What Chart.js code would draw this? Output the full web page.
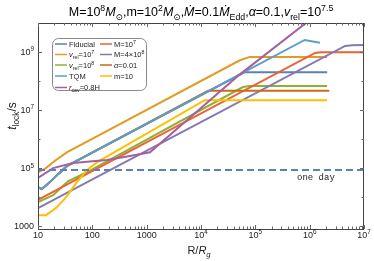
<!DOCTYPE html>
<html lang="en">
<head>
<meta charset="UTF-8">
<title>t_lock vs R</title>
<script src="https://cdn.jsdelivr.net/npm/chart.js"></script>
<style>
  body { margin: 0; background: #fff; }
</style>
</head>
<body>
<canvas id="myChart" width="374" height="261"></canvas>
<script>
// radius in R_g and locking time in s
const fiducialR = [10, 11.7, 16.6, 23.4, 33.9, 6.3e4, 2.1e6];
const fiducialT = [2.2e4, 1.9e4, 3.3e4, 6.2e4, 1.17e5, 2.0e8, 2.0e8];
const vrel7R = [10, 14, 21.4, 33.9, 5.2e4, 7.9e4, 2.1e6];
const vrel7T = [7.2e4, 1.0e5, 1.9e5, 3.5e5, 5.2e8, 6.8e8, 6.8e8];
const vrel8R = [10, 19, 35.5, 79, 5.9e4, 7.9e4, 2.1e6];
const vrel8T = [6.8e3, 1.17e4, 3.5e4, 7.2e4, 6.2e7, 6.8e7, 6.8e7];
const m7R = [10, 1.26e6, 1.6e6, 1e7];
const m7T = [8.0e3, 9.3e8, 9.8e8, 9.8e8];
const m4e8R = [10, 4.5e6, 6e6, 1e7];
const m4e8T = [4.2e3, 1.62e9, 1.72e9, 1.74e9];
const alphaR = [10, 11.7, 16.6, 23.4, 33.9, 1.35e4, 2.3e6];
const alphaT = [2.2e4, 1.9e4, 3.3e4, 6.2e4, 1.17e5, 4.6e7, 4.6e7];
const tqmR = [10, 11.7, 16.6, 23.4, 33.9, 8.1e5, 1.55e6];
const tqmT = [2.2e4, 1.9e4, 3.3e4, 6.2e4, 1.17e5, 2.6e9, 2.1e9];
const m10R = [10, 14, 21.4, 33, 50, 79, 123, 1.17e4, 2.1e6];
const m10T = [2.4e3, 2.4e3, 4.2e3, 1.0e4, 3.0e4, 8.5e4, 1.6e5, 2.2e7, 2.2e7];
const rcavR = [10, 19, 44, 186, 490, 1150, 5.2e4, 1e6];
const rcavT = [4.6e4, 1.0e5, 1.5e5, 1.9e5, 2.6e5, 3.5e5, 1.7e8, 1.26e10];
const oneDayR = [10, 1e7];
const oneDayT = [86400, 86400];

const xTicks = [10, 100, 1000, 1e4, 1e5, 1e6, 1e7];
const yTicks = [1e3, 1e5, 1e7, 1e9];

const series = [
  { R: fiducialR, T: fiducialT, color: '#5E81B5' },
  { R: vrel7R, T: vrel7T, color: '#E19C24' },
  { R: vrel8R, T: vrel8T, color: '#8FB032' },
  { R: m7R, T: m7T, color: '#EB6235' },
  { R: m4e8R, T: m4e8T, color: '#8778B3' },
  { R: alphaR, T: alphaT, color: '#C56E1A' },
  { R: tqmR, T: tqmT, color: '#5D9EC7' },
  { R: m10R, T: m10T, color: '#FFBF00' },
  { R: rcavR, T: rcavT, color: '#A5609D' }
];

// legend: [column, row, colour, rich text]
const legendItems = [
  [0, 0, '#5E81B5', [['Fiducial']]],
  [0, 1, '#E19C24', [['v', 'n', 1], ['rel', 'sub'], ['=10'], ['7', 'sup']]],
  [0, 2, '#8FB032', [['v', 'n', 1], ['rel', 'sub'], ['=10'], ['8', 'sup']]],
  [0, 3, '#5D9EC7', [['TQM']]],
  [0, 4, '#A5609D', [['r', 'n', 1], ['cav', 'sub'], ['=0.8H']]],
  [1, 0, '#EB6235', [['M=10'], ['7', 'sup']]],
  [1, 1, '#8778B3', [['M=4×10'], ['8', 'sup']]],
  [1, 2, '#C56E1A', [['α', 'n', 1], ['=0.01']]],
  [1, 3, '#FFBF00', [['m=10']]]
];

const FONT = '"Liberation Sans", "DejaVu Sans", sans-serif';

function drawRich(ctx, segs, x, y, size, align) {
  let w = 0;
  const parts = segs.map(s => {
    const small = s[1] === 'sup' || s[1] === 'sub';
    const sz = small ? size * 0.7 : size;
    const font = (s[2] ? 'italic ' : '') + sz + 'px ' + FONT;
    ctx.font = font;
    const pw = ctx.measureText(s[0]).width;
    w += pw;
    return { t: s[0], font, w: pw, dy: s[1] === 'sup' ? -size * 0.4 : s[1] === 'sub' ? size * 0.28 : 0 };
  });
  let cx = align === 'center' ? x - w / 2 : align === 'right' ? x - w : x;
  ctx.textAlign = 'left';
  ctx.textBaseline = 'alphabetic';
  parts.forEach(p => {
    ctx.font = p.font;
    ctx.fillText(p.t, cx, y + p.dy);
    cx += p.w;
  });
  return w;
}

function expLabel(v) {
  const e = Math.round(Math.log10(v));
  if (e <= 3) return [[String(v)]];
  return [['10'], [String(e), 'sup']];
}

const decorations = {
  id: 'decorations',
  afterDraw(chart) {
    const ctx = chart.ctx;
    const a = chart.chartArea;
    const xs = chart.scales.x, ys = chart.scales.y;
    ctx.save();

    // frame
    ctx.strokeStyle = '#444';
    ctx.lineWidth = 1;
    ctx.strokeRect(a.left + 0.5, a.top + 0.5, a.right - a.left - 1, a.bottom - a.top);

    // x ticks, both sides
    ctx.strokeStyle = '#666';
    ctx.beginPath();
    for (let d = 10; d <= 1e7; d *= 10) {
      for (let m = 1; m <= 9; m++) {
        const v = d * m;
        if (v > 1e7) break;
        const px = Math.round(xs.getPixelForValue(v)) + 0.5;
        const len = m === 1 ? 4 : 2.5;
        ctx.moveTo(px, a.bottom); ctx.lineTo(px, a.bottom - len);
        ctx.moveTo(px, a.top); ctx.lineTo(px, a.top + len);
      }
    }
    for (let e = 3; e <= 9; e++) {
      const py = Math.round(ys.getPixelForValue(Math.pow(10, e))) + 0.5;
      const len = e % 2 === 1 ? 4 : 2.5;
      ctx.moveTo(a.left, py); ctx.lineTo(a.left + len, py);
      ctx.moveTo(a.right, py); ctx.lineTo(a.right - len, py);
    }
    ctx.stroke();

    // tick labels
    ctx.fillStyle = '#222';
    xTicks.forEach(v => drawRich(ctx, expLabel(v), xs.getPixelForValue(v), a.bottom + 9, 9, 'center'));
    yTicks.forEach(v => drawRich(ctx, expLabel(v), a.left - 4, ys.getPixelForValue(v) + 3, 9, 'right'));

    // title
    ctx.fillStyle = '#000';
    drawRich(ctx, [
      ['M=10'], ['8', 'sup'], ['M', 'n', 1], ['⊙', 'sub'], [',m=10'], ['2', 'sup'], ['M', 'n', 1], ['⊙', 'sub'],
      [','], ['Ṁ', 'n', 1], ['=0.1'], ['Ṁ', 'n', 1], ['Edd', 'sub'], [','], ['α', 'n', 1], ['=0.1,'],
      ['v', 'n', 1], ['rel', 'sub'], ['=10'], ['7.5', 'sup']
    ], 201, 16, 12.5, 'center');

    // axis titles
    ctx.fillStyle = '#222';
    drawRich(ctx, [['R/'], ['R', 'n', 1], ['g', 'sub', 1]], 199, 254, 11, 'center');
    ctx.save();
    ctx.translate(16, 116);
    ctx.rotate(-Math.PI / 2);
    drawRich(ctx, [['t', 'n', 1], ['lock', 'sub'], ['/s']], 0, 0, 12, 'center');
    ctx.restore();

    // one day label
    ctx.font = '9px "Liberation Mono", "DejaVu Sans Mono", monospace';
    ctx.fillStyle = '#222';
    ctx.textAlign = 'left';
    ctx.fillText('one day', 297, 180);

    // legend
    ctx.beginPath();
    ctx.roundRect(52.5, 38.5, 94, 52, 6);
    ctx.fillStyle = '#fff';
    ctx.fill();
    ctx.strokeStyle = '#888';
    ctx.lineWidth = 1;
    ctx.stroke();
    const rows = [44, 54.5, 65, 76, 87.5];
    const cols = [55, 100];
    legendItems.forEach(([c, r, color, segs]) => {
      const y = rows[r];
      ctx.strokeStyle = color;
      ctx.lineWidth = 1.5;
      ctx.beginPath();
      ctx.moveTo(cols[c], y); ctx.lineTo(cols[c] + 12, y);
      ctx.stroke();
      ctx.fillStyle = '#222';
      drawRich(ctx, segs, cols[c] + 14, y + 2.7, 7.5, 'left');
    });
    ctx.restore();
  }
};

const n = series.length;
const datasets = series.map((s, i) => ({
  data: s.R.map((r, k) => ({ x: r, y: s.T[k] })),
  borderColor: s.color,
  borderWidth: 2,
  showLine: true,
  pointRadius: 0,
  tension: 0,
  fill: false,
  order: n - i + 1
}));
datasets.push({
  data: oneDayR.map((r, k) => ({ x: r, y: oneDayT[k] })),
  borderColor: '#5E81B5',
  borderWidth: 2,
  borderDash: [7, 4],
  showLine: true,
  pointRadius: 0,
  fill: false,
  order: 0
});

const ctx = document.getElementById('myChart').getContext('2d');
new Chart(ctx, {
  type: 'scatter',
  data: { datasets },
  options: {
    responsive: false,
    animation: false,
    layout: { padding: { left: 38, right: 10, top: 23, bottom: 32 } },
    plugins: { legend: { display: false }, tooltip: { enabled: false } },
    scales: {
      x: { type: 'logarithmic', min: 10, max: 1e7, display: false },
      y: { type: 'logarithmic', min: 800, max: 1e10, display: false }
    }
  },
  plugins: [decorations]
});
</script>
</body>
</html>
